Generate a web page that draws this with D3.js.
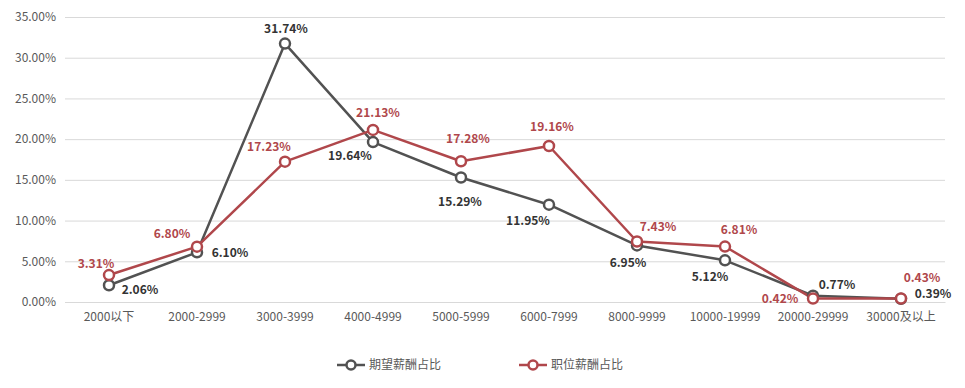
<!DOCTYPE html>
<html>
<head>
<meta charset="utf-8">
<script src="https://cdn.jsdelivr.net/npm/d3@7"></script>
<style>
  body { margin: 0; background: #fff; }
  text { font-family: "Microsoft YaHei", "Noto Sans CJK SC", sans-serif; }
</style>
</head>
<body>
<div id="container"></div>
<script>
const categories = ["2000以下", "2000-2999", "3000-3999", "4000-4999", "5000-5999",
  "6000-7999", "8000-9999", "10000-19999", "20000-29999", "30000及以上"];
const expected = [2.06, 6.10, 31.74, 19.64, 15.29, 11.95, 6.95, 5.12, 0.77, 0.39];
const offered = [3.31, 6.80, 17.23, 21.13, 17.28, 19.16, 7.43, 6.81, 0.42, 0.43];
const yTicks = [0, 5, 10, 15, 20, 25, 30, 35];
const seriesNames = ["期望薪酬占比", "职位薪酬占比"];

// label placement relative to each point [dx, dy]
const expectedLabelPos = [[31, 5], [33, 0], [1, -15], [-23, 14], [-1, 24], [-21, 16], [-9, 17], [-15, 16], [24, -11], [32, -5]];
const offeredLabelPos = [[-13, -11], [-25, -13], [-16, -15], [5, -17], [7, -22], [3, -19], [21, -15], [14, -17], [-33, 0], [21, -21]];

const width = 965;
const height = 388;
const marginLeft = 65;
const marginRight = 20;
const marginTop = 17;
const marginBottom = 86;

const gray = "#525252";
const red = "#b0474b";

const x = d3.scaleBand()
  .domain(categories)
  .range([marginLeft, width - marginRight]);

const y = d3.scaleLinear()
  .domain([0, 35])
  .range([height - marginBottom, marginTop]);

const svg = d3.create("svg").attr("width", width).attr("height", height);

// grid + y labels
const yAxis = svg.append("g")
  .attr("transform", `translate(${marginLeft},0)`)
  .call(d3.axisLeft(y).tickValues(yTicks).tickSize(-(width - marginLeft - marginRight))
    .tickPadding(9).tickFormat((d) => d.toFixed(2) + "%"));
yAxis.select(".domain").remove();
yAxis.selectAll("line").attr("stroke", "#d9d9d9");
yAxis.selectAll("text").attr("fill", "#595959").attr("font-size", 12);

const xAxis = svg.append("g")
  .attr("transform", `translate(0,${height - marginBottom})`)
  .call(d3.axisBottom(x).tickSize(0).tickPadding(10));
xAxis.select(".domain").attr("stroke", "#d9d9d9");
xAxis.selectAll("text").attr("fill", "#595959").attr("font-size", 12);

const cx = (i) => x(categories[i]) + x.bandwidth() / 2;

const series = [
  { name: seriesNames[0], values: expected, color: gray, pos: expectedLabelPos, labelColor: "#333" },
  { name: seriesNames[1], values: offered, color: red, pos: offeredLabelPos, labelColor: red }
];

const line = d3.line().x((d, i) => cx(i)).y((d) => y(d));

series.forEach((s) => {
  svg.append("path")
    .attr("d", line(s.values))
    .attr("fill", "none")
    .attr("stroke", s.color)
    .attr("stroke-width", 2.5)
    .attr("stroke-linejoin", "round");
});

series.forEach((s) => {
  svg.append("g").selectAll("circle")
    .data(s.values)
    .join("circle")
    .attr("cx", (d, i) => cx(i))
    .attr("cy", (d) => y(d))
    .attr("r", 5)
    .attr("fill", "#fff")
    .attr("stroke", s.color)
    .attr("stroke-width", 2.5);
});

series.forEach((s) => {
  svg.append("g").selectAll("text")
    .data(s.values)
    .join("text")
    .attr("x", (d, i) => cx(i) + s.pos[i][0])
    .attr("y", (d, i) => y(d) + s.pos[i][1])
    .attr("dy", "0.35em")
    .attr("text-anchor", "middle")
    .attr("font-size", 12)
    .attr("font-weight", "bold")
    .attr("fill", s.labelColor)
    .text((d) => d.toFixed(2) + "%");
});

// legend
const legendX = [337, 519];
series.forEach((s, i) => {
  const g = svg.append("g").attr("transform", `translate(${legendX[i]},365)`);
  g.append("line").attr("x1", 0).attr("x2", 28).attr("stroke", s.color).attr("stroke-width", 2.5);
  g.append("circle").attr("cx", 14).attr("r", 4.5).attr("fill", "#fff")
    .attr("stroke", s.color).attr("stroke-width", 2.5);
  g.append("text").attr("x", 32).attr("dy", "0.35em").attr("font-size", 12)
    .attr("fill", "#595959").text(s.name);
});

d3.select("#container").append(() => svg.node());
</script>
</body>
</html>
